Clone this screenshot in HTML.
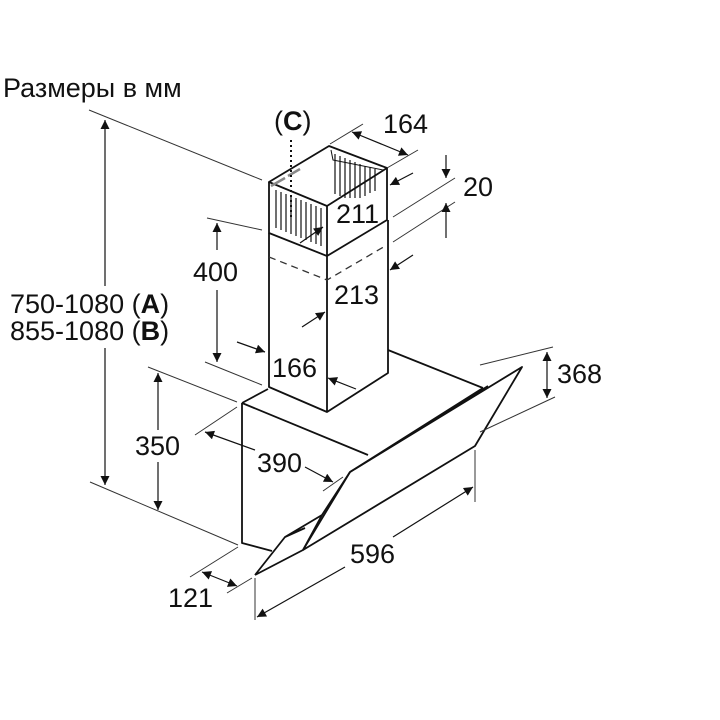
<!DOCTYPE html>
<html><head><meta charset="utf-8"><style>
html,body{margin:0;padding:0;background:#fff;}
svg{display:block}
text{font-family:"Liberation Sans",sans-serif;font-size:27px;fill:#111}
</style></head><body>
<svg width="720" height="720" viewBox="0 0 720 720" xmlns="http://www.w3.org/2000/svg">
<defs>
<marker id="a" viewBox="0 0 10 10" refX="10" refY="5" markerWidth="14" markerHeight="9" orient="auto-start-reverse" markerUnits="userSpaceOnUse"><path d="M0,0L10,5L0,10z" fill="#111"/></marker>
</defs>
<text x="3" y="97">Размеры в мм</text>
<text x="10" y="313">750-1080 (<tspan font-weight="bold">A</tspan>)</text>
<text x="10" y="340">855-1080 (<tspan font-weight="bold">B</tspan>)</text>
<text x="274" y="130">(<tspan font-weight="bold">C</tspan>)</text>
<text x="383" y="133">164</text>
<text x="463" y="196">20</text>
<text x="336" y="223">211</text>
<text x="334" y="304">213</text>
<text x="193" y="281">400</text>
<text x="272" y="377">166</text>
<text x="557" y="383">368</text>
<text x="135" y="455">350</text>
<text x="257" y="472">390</text>
<text x="350" y="563">596</text>
<text x="168" y="607">121</text>

<g stroke="#111" stroke-width="1.8" fill="none" stroke-linejoin="round">
<path d="M269,182L329,146L387,168L327,206Z"/>
<path d="M269,182V233L327,256L387,220V168M327,206V256"/>
<path d="M331,150L333,160L383,170" stroke-width="1"/>
<path d="M269,233V387L327,412L388,373V220M327,256V412"/>
<path d="M242,403L268,389M242,403L368,455M242,403V543L272,551M388,350L483,388"/>
<path d="M522,367L475,446L303,550L350,472Z"/>
<path d="M350,472L483,388M355,469L488,386"/>
<path d="M350,472L322,515L303,550M255,575L303,550M255,575L285,537L322,515M285,537L305,528"/>
</g>
<g stroke="#111" stroke-width="1.2">
<path d="M276,190v38M281,192v38M286,194v38M291,196v38M296,198v38M301,200v38M306,202v38M311,204v38M316,206v38M321,208v38M335,154v40M340,156v40M345,158v40M350,160v38M355,162v36M360,164v34M365,166v30M370,167v26M375,169v22"/>
<path d="M271,186l14,-8M288,176l12,-7" stroke-width="2.5" stroke="#888"/>
</g>
<path d="M291,140V218" stroke="#111" stroke-width="2" stroke-dasharray="2,3"/>
<path d="M269,257L327,280L387,245" stroke="#333" stroke-width="1.3" stroke-dasharray="7,5" fill="none"/>

<g stroke="#333" stroke-width="1" fill="none">
<path d="M89,110L262,180M207,218L262,230M205,362L262,385M148,367L237,402M90,482L238,545M195,435L237,407M323,491L343,477M190,577L238,547M227,593L252,578M255,578V620M475,450V502M480,365L553,347M480,432L555,397M330,144L363,124M387,168L418,150M393,217L455,178M393,242L455,202"/>
</g>
<g stroke="#111" stroke-width="1.2" fill="none">
<path d="M105,286V120" marker-end="url(#a)"/>
<path d="M105,348V485" marker-end="url(#a)"/>
<path d="M217,250V223" marker-end="url(#a)"/>
<path d="M217,290V362" marker-end="url(#a)"/>
<path d="M158,430V373" marker-end="url(#a)"/>
<path d="M158,462V510" marker-end="url(#a)"/>
<path d="M255,450L205,432" marker-end="url(#a)"/>
<path d="M305,467L333,482" marker-end="url(#a)"/>
<path d="M202,572L237,586" marker-start="url(#a)" marker-end="url(#a)"/>
<path d="M345,567L257,617" marker-end="url(#a)"/>
<path d="M393,537L473,487" marker-end="url(#a)"/>
<path d="M547,352V398" marker-start="url(#a)" marker-end="url(#a)"/>
<path d="M352,132L408,155" marker-start="url(#a)" marker-end="url(#a)"/>
<path d="M446,155V178" marker-end="url(#a)"/>
<path d="M446,238V203" marker-end="url(#a)"/>
<path d="M413,173L390,185" marker-end="url(#a)"/>
<path d="M300,243L323,227" marker-end="url(#a)"/>
<path d="M413,255L390,270" marker-end="url(#a)"/>
<path d="M302,327L325,312" marker-end="url(#a)"/>
<path d="M237,342L265,352" marker-end="url(#a)"/>
<path d="M356,389L328,378" marker-end="url(#a)"/>
</g>
</svg>
</body></html>
